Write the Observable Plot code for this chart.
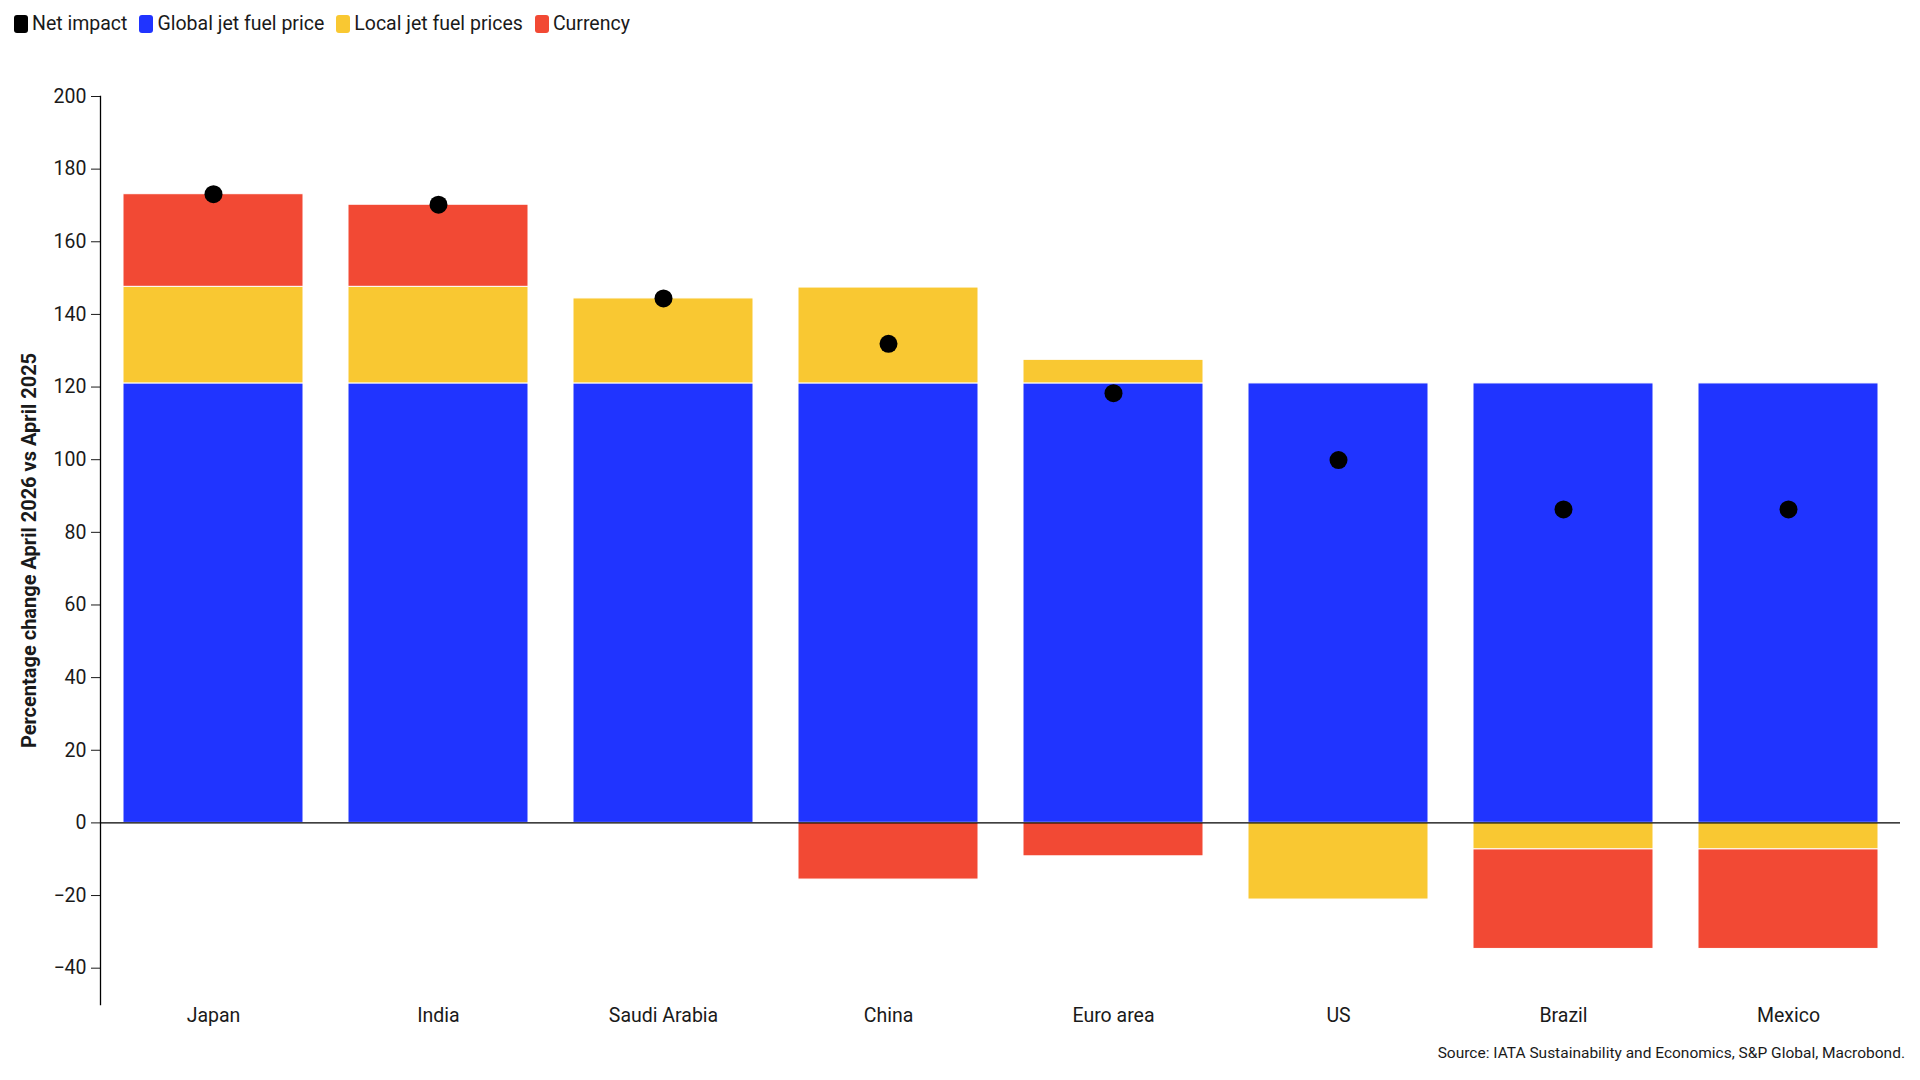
<!DOCTYPE html>
<html>
<head>
<meta charset="utf-8">
<script src="https://cdn.jsdelivr.net/npm/d3@7"></script>
<script src="https://cdn.jsdelivr.net/npm/@observablehq/plot@0.6"></script>
<style>
  html, body { margin: 0; padding: 0; background: #fff; }
  body { width: 1920px; height: 1080px; overflow: hidden; font-family: Roboto, "Liberation Sans", sans-serif; color: #1a1a1a; }
  #legend { height: 48px; box-sizing: border-box; padding: 14px 0 0 14px; display: flex; align-items: flex-start; }
  .item { display: flex; align-items: center; margin-right: 12px; height: 19px; font-size: 19.5px; line-height: 19px; }
  .sw { width: 14px; height: 18px; border-radius: 3px; margin-right: 4px; display: inline-block; }
  #chart svg { display: block; }
  #chart g[aria-label="y-axis label"] text { font-weight: bold; font-size: 20px; }
  #caption { text-align: right; font-size: 15.5px; padding-right: 15px; margin-top: 6px; }
</style>
</head>
<body>
<div id="legend"></div>
<div id="chart"></div>
<div id="caption">Source: IATA Sustainability and Economics, S&amp;P Global, Macrobond.</div>
<script>
const countries = ["Japan", "India", "Saudi Arabia", "China", "Euro area", "US", "Brazil", "Mexico"];
const globalPrice = [121, 121, 121, 121, 121, 121, 121, 121];
const localPrices = [26.6, 26.6, 23.4, 26.4, 6.5, -21.1, -7.3, -7.3];
const currency = [25.5, 22.6, 0, -15.6, -9.2, 0, -27.4, -27.4];
const netImpact = [173.1, 170.2, 144.4, 131.9, 118.3, 99.9, 86.3, 86.3];
const components = ["Global jet fuel price", "Local jet fuel prices", "Currency"];
const componentColors = ["#2034ff", "#f9c832", "#f24934"];
const legendLabels = ["Net impact", "Global jet fuel price", "Local jet fuel prices", "Currency"];
const legendColors = ["#000000", "#2034ff", "#f9c832", "#f24934"];
const yTicks = [-40, -20, 0, 20, 40, 60, 80, 100, 120, 140, 160, 180, 200];
const yLabel = "Percentage change April 2026 vs April 2025";

const series = [globalPrice, localPrices, currency];
const rows = countries.flatMap((c, i) =>
  components.map((k, j) => ({country: c, component: k, value: series[j][i]}))
).filter(d => d.value !== 0);
const netRows = countries.map((c, i) => ({country: c, net: netImpact[i]}));

// legend
const legend = d3.select("#legend");
legendLabels.forEach((l, i) => {
  const it = legend.append("div").attr("class", "item");
  it.append("span").attr("class", "sw").style("background", legendColors[i]);
  it.append("span").text(l);
});

const chart = Plot.plot({
  width: 1920,
  height: 990,
  marginTop: 48,
  marginBottom: 34,
  marginLeft: 100,
  marginRight: 20,
  style: {fontFamily: "Roboto, 'Liberation Sans', sans-serif", fontSize: "19.5px", color: "#1a1a1a", background: "#fff"},
  x: {domain: countries, paddingInner: 0.2, paddingOuter: 0.1, label: null},
  y: {domain: [-50, 200], label: yLabel},
  color: {domain: components, range: componentColors},
  marks: [
    Plot.barY(rows, {x: "country", y: "value", fill: "component", stroke: "white", strokeWidth: 1}),
    Plot.ruleY([0], {stroke: "black", strokeWidth: 1.3}),
    Plot.dot(netRows, {x: "country", y: "net", r: 9, fill: "black"}),
    Plot.axisY({ticks: yTicks, tickSize: 9, tickPadding: 5, label: yLabel, labelAnchor: "center", labelArrow: "none", labelOffset: 79, fontSize: 19.5}),
    Plot.axisX({tickSize: 0, tickPadding: 4, label: null, fontSize: 19.5}),
    Plot.frame({anchor: "left", stroke: "black", strokeWidth: 1.3})
  ]
});
document.getElementById("chart").appendChild(chart);
</script>
</body>
</html>
